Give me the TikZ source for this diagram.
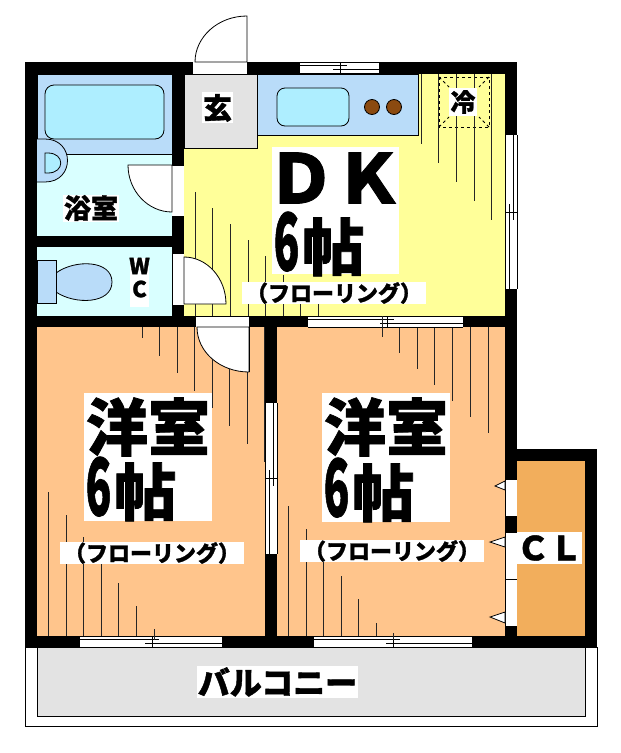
\documentclass[tikz,border=0pt]{standalone}
\usepackage{fontspec}
\newfontfamily\jpfont[BoldFeatures={FakeBold=1.2}]{Noto Sans CJK JP}
\usetikzlibrary{calc}
\definecolor{bathblue}{HTML}{B9DCF9}
\definecolor{tubcyan}{HTML}{AEEEFF}
\definecolor{bathfloor}{HTML}{D9FFFF}
\definecolor{dkyellow}{HTML}{FFFF99}
\definecolor{roomorange}{HTML}{FFC58C}
\definecolor{closetorange}{HTML}{F2AE5C}
\definecolor{entrygray}{HTML}{E3E3E3}
\definecolor{burnerbrown}{HTML}{8B4A10}
\tikzset{
	wall/.style={fill=black},
	thinline/.style={line width=0.8pt, color=black},
	floorline/.style={line width=0.8pt, color=black!85},
	fixture/.style={thinline, fill=bathblue},
	leaf/.style={thinline, fill=white},
	bigtext/.style={font=\jpfont\bfseries\fontsize{62}{62}\selectfont, inner sep=0},
	midtext/.style={font=\jpfont\bfseries\fontsize{22}{22}\selectfont, inner sep=0},
	smalltext/.style={font=\jpfont\bfseries\fontsize{26}{26}\selectfont, inner sep=0}
}
\newcommand\sixmat{\scalebox{0.68}[1.28]{6}\hspace{3pt}帖}
\def\hwindow(#1,#2,#3,#4){
	\fill[white] (#1, #4) rectangle (#2, #4+11);
	\draw[thinline] (#1, #4) -- (#2, #4) (#1, #4+11) -- (#2, #4+11);
	\draw[thinline] (#1, #4+3) -- (#3+7, #4+3) (#3-7, #4+7) -- (#2, #4+7);
	\draw[thinline] (#3, #4) -- (#3, #4+11);
}
\def\vwindow(#1,#2,#3,#4){
	\fill[white] (#4, #1) rectangle (#4+12, #2);
	\draw[thinline] (#4, #1) -- (#4, #2) (#4+12, #1) -- (#4+12, #2);
	\draw[thinline] (#4+8, #1) -- (#4+8, #3+8) (#4+4, #3-8) -- (#4+4, #2);
	\draw[thinline] (#4, #3) -- (#4+12, #3);
}

\begin{document}
\begin{tikzpicture}[x=1pt, y=-1pt]
	%%%%% START %%%%%
	\useasboundingbox (0, 0) rectangle (621, 753);

	% balcony
	\draw[thinline, fill=white] (25, 647) rectangle (597, 726);
	\draw[thinline, fill=entrygray] (37, 647) rectangle (585, 716);

	% floors
	\fill[dkyellow] (184, 74) rectangle (505, 316);
	\fill[bathfloor] (37, 74) rectangle (172, 316);
	\fill[roomorange] (37, 327) rectangle (505, 636);
	\fill[closetorange] (517, 461) rectangle (585, 636);

	% bath
	\draw[thinline, fill=bathblue] (37, 74) rectangle (172, 154);
	\draw[thinline, fill=tubcyan, rounded corners=9pt] (45, 85) rectangle (164, 139);
	\draw[fixture] (37, 139) -- (45, 139) .. controls (75, 139) and (75, 182) .. (45, 182) -- (37, 182);
	\draw[thinline, fill=tubcyan] (45, 153) -- (48, 153) .. controls (65, 153) and (65, 173) .. (48, 173) -- (45, 173) -- cycle;

	% toilet
	\draw[fixture] (56, 273) .. controls (75, 259) and (112, 260) .. (112, 282) .. controls (112, 304) and (75, 305) .. (56, 292) -- cycle;
	\draw[fixture] (37, 260) rectangle (56, 303);

	% entry
	\draw[thinline, fill=entrygray] (184, 74) rectangle (257, 148);

	% kitchen
	\draw[fixture] (257, 74) rectangle (418, 135);
	\draw[thinline, fill=tubcyan, rounded corners=8pt] (277, 88) rectangle (349, 126);
	\draw[thinline, fill=burnerbrown] (372, 107) circle (7.5);
	\draw[thinline, fill=burnerbrown] (394, 107) circle (7.5);

	% fridge
	\draw[thinline, dashed] (439, 77) rectangle (489, 127);
	\draw[thinline, dashed] (439, 77) -- (449, 87) (489, 77) -- (479, 87) (439, 127) -- (449, 117) (489, 127) -- (479, 117);

	% floor lines DK
	\draw[floorline] (421, 74) -- (421, 144);
	\draw[floorline] (438, 74) -- (438, 163);
	\draw[floorline] (456, 74) -- (456, 182);
	\draw[floorline] (474, 74) -- (474, 201);
	\draw[floorline] (491, 74) -- (491, 220);
	\draw[floorline] (195, 192) -- (195, 316);
	\draw[floorline] (212, 208) -- (212, 316);
	\draw[floorline] (230, 224) -- (230, 316);
	\draw[floorline] (248, 240) -- (248, 316);
	\draw[floorline] (265, 256) -- (265, 316);
	\draw[floorline] (283, 275) -- (283, 316);
	\draw[floorline] (300, 295) -- (300, 316);
	\draw[floorline] (318, 295) -- (318, 316);

	% floor lines left room
	\draw[floorline] (142, 327) -- (142, 338);
	\draw[floorline] (159, 327) -- (159, 356);
	\draw[floorline] (177, 327) -- (177, 373);
	\draw[floorline] (194, 327) -- (194, 391);
	\draw[floorline] (212, 327) -- (212, 408);
	\draw[floorline] (229, 327) -- (229, 426);
	\draw[floorline] (247, 327) -- (247, 444);
	\draw[floorline] (264, 327) -- (264, 462);
	\draw[floorline] (48, 492) -- (48, 636);
	\draw[floorline] (66, 515) -- (66, 636);
	\draw[floorline] (83, 537) -- (83, 636);
	\draw[floorline] (101, 560) -- (101, 636);
	\draw[floorline] (118, 583) -- (118, 636);
	\draw[floorline] (136, 606) -- (136, 636);
	\draw[floorline] (154, 629) -- (154, 636);

	% floor lines right room
	\draw[floorline] (399, 327) -- (399, 353);
	\draw[floorline] (417, 327) -- (417, 369);
	\draw[floorline] (434, 327) -- (434, 385);
	\draw[floorline] (452, 327) -- (452, 401);
	\draw[floorline] (470, 327) -- (470, 417);
	\draw[floorline] (488, 327) -- (488, 433);
	\draw[floorline] (288, 506) -- (288, 636);
	\draw[floorline] (306, 529) -- (306, 636);
	\draw[floorline] (323, 552) -- (323, 636);
	\draw[floorline] (341, 576) -- (341, 636);
	\draw[floorline] (358, 599) -- (358, 636);
	\draw[floorline] (376, 623) -- (376, 636);

	% walls
	\fill[wall] (25, 62) rectangle (517, 74);
	\fill[wall] (25, 62) rectangle (37, 647);
	\fill[wall] (505, 62) rectangle (517, 647);
	\fill[wall] (172, 74) rectangle (184, 316);
	\fill[wall] (37, 236) rectangle (172, 247);
	\fill[wall] (25, 316) rectangle (517, 327);
	\fill[wall] (265, 327) rectangle (277, 647);
	\fill[wall] (25, 636) rectangle (597, 647);
	\fill[wall] (505, 449) rectangle (597, 461);
	\fill[wall] (585, 449) rectangle (597, 647);

	% windows
	\hwindow(300, 379, 340, 62);
	\hwindow(308, 463, 387, 316);
	\hwindow(80, 222, 152, 636);
	\hwindow(314, 472, 393, 636);
	\vwindow(135, 289, 212, 505);
	\vwindow(403, 554, 478, 265);
	\draw[floorline] (382, 316) -- (382, 337);
	\draw[floorline] (393, 633) -- (393, 640);
	\draw[floorline] (154, 629) -- (154, 640);

	% doors
	\fill[white] (193, 62) rectangle (247, 74);
	\draw[thinline] (193, 74) -- (247, 74);
	\draw[leaf] (247, 62) -- (247, 16) .. controls (218, 16) and (195, 37) .. (195, 62) -- cycle;
	\fill[white] (172, 165) rectangle (184, 216);
	\draw[thinline] (172, 165) -- (184, 165) (172, 216) -- (184, 216);
	\draw[leaf] (172, 165) -- (128, 165) .. controls (128, 191) and (148, 212) .. (172, 212) -- cycle;
	\fill[white] (172, 254) rectangle (184, 305);
	\draw[thinline] (172, 254) -- (172, 305);
	\draw[leaf] (184, 304) -- (226, 304) .. controls (226, 278) and (207, 257) .. (184, 257) -- cycle;
	\fill[white] (196, 316) rectangle (249, 327);
	\draw[thinline] (196, 316) -- (249, 316);
	\draw[leaf] (249, 327) -- (197, 327) .. controls (197, 352) and (220, 372) .. (249, 372) -- cycle;
	\draw[thinline] (249, 316) -- (249, 372);

	% closet doors
	\fill[white] (505, 480) rectangle (517, 516);
	\fill[white] (505, 533) rectangle (517, 626);
	\draw[thinline] (505, 480) -- (505, 516) (505, 533) -- (505, 626) (505, 579) -- (517, 579);
	\draw[leaf] (505, 481) -- (495, 486) -- (505, 490) -- cycle;
	\draw[leaf] (505, 537) -- (490, 542) -- (505, 547) -- cycle;
	\draw[leaf] (505, 612) -- (490, 617) -- (505, 623) -- cycle;

	% labels
	\fill[white] (202, 92) rectangle (233, 123);
	\node[smalltext, font=\jpfont\bfseries\fontsize{29}{29}\selectfont] (entrylabel) at (217.5, 108) {玄};
	\fill[white] (449, 88) rectangle (477, 116);
	\node[smalltext, font=\jpfont\bfseries\fontsize{25}{25}\selectfont] (fridgelabel) at (463, 102) {冷};
	\fill[white] (63, 195) rectangle (119, 222);
	\node[smalltext, font=\jpfont\bfseries\fontsize{27}{27}\selectfont] (bathlabel) at (91, 208) {浴室};
	\fill[white] (130, 258) rectangle (149, 307);
	\node[midtext] (wlabel) at (139.5, 266) {W};
	\node[midtext] (clabel) at (139.5, 289) {C};

	\fill[white] (272, 147) rectangle (399, 274);
	\node[bigtext, font=\jpfont\bfseries\fontsize{68}{68}\selectfont] (dklabel) at (335, 178) {ＤＫ};
	\node[bigtext] (dkmat) at (319, 244) {\sixmat};
	\fill[white] (242, 282) rectangle (426, 304);
	\node[midtext] (dkfloor) at (334, 293) {（フローリング）};

	\fill[white] (84, 393) rectangle (212, 521);
	\node[bigtext] (leftroom) at (148, 427) {洋室};
	\node[bigtext] (leftmat) at (131, 489) {\sixmat};
	\fill[white] (60, 542) rectangle (244, 564);
	\node[midtext] (leftfloor) at (152, 553) {（フローリング）};

	\fill[white] (322, 393) rectangle (450, 522);
	\node[bigtext] (rightroom) at (386, 427) {洋室};
	\node[bigtext] (rightmat) at (369, 490) {\sixmat};
	\fill[white] (300, 540) rectangle (484, 562);
	\node[midtext] (rightfloor) at (392, 551) {（フローリング）};

	\fill[white] (517, 532) rectangle (582, 564);
	\node[smalltext, font=\jpfont\bfseries\fontsize{33}{33}\selectfont] (cllabel) at (549.5, 548) {ＣＬ};

	\fill[white] (197, 666) rectangle (358, 698);
	\node[smalltext, font=\jpfont\bfseries\fontsize{32}{32}\selectfont] (balconylabel) at (277.5, 682) {バルコニー};
	%%%%% END %%%%%
\end{tikzpicture}
\end{document}
